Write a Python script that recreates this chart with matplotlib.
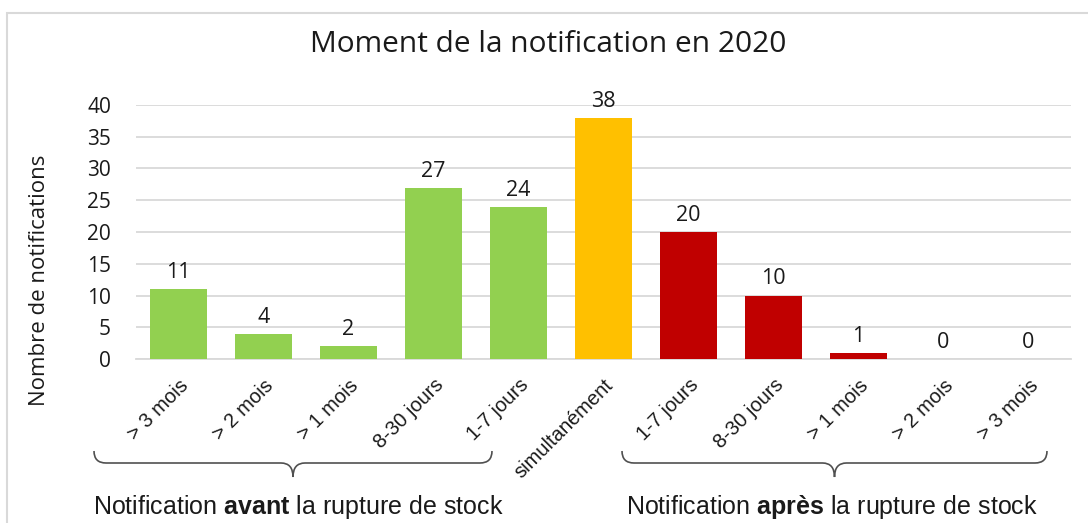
import matplotlib
matplotlib.use("Agg")
import matplotlib.pyplot as plt
from matplotlib.path import Path
from matplotlib.patches import PathPatch, Rectangle

# data
categories = ["> 3 mois", "> 2 mois", "> 1 mois", "8-30 jours", "1-7 jours",
              "simultanément",
              "1-7 jours", "8-30 jours", "> 1 mois", "> 2 mois", "> 3 mois"]
counts = [11, 4, 2, 27, 24, 38, 20, 10, 1, 0, 0]
bar_colors = ["#92D050"] * 5 + ["#FFC000"] + ["#C00000"] * 5
y_ticks = [0, 5, 10, 15, 20, 25, 30, 35, 40]

plt.rcParams["mathtext.fontset"] = "custom"
plt.rcParams["mathtext.rm"] = "Liberation Sans"
plt.rcParams["mathtext.bf"] = "Liberation Sans:bold"

TXT = "#1a1a1a"
NUM_FONT = ["Open Sans", "DejaVu Sans"]
LAB_FONT = ["Liberation Sans", "DejaVu Sans"]

W, H = 1088, 523
fig = plt.figure(figsize=(W / 100, H / 100), dpi=100)
ax = fig.add_axes([136 / W, 1 - 359 / H, (1071 - 136) / W, (359 - 105) / H])

x = list(range(len(categories)))
ax.bar(x, counts, width=0.66, color=bar_colors, zorder=3)
for xi, v in zip(x, counts):
    ax.annotate(str(v), (xi, v), xytext=(0, 19), textcoords="offset pixels",
                ha="center", va="center_baseline", fontsize=15.5, color=TXT,
                family=NUM_FONT)

ax.set_xlim(-0.5, len(categories) - 0.5)
ax.set_ylim(0, 40)
ax.set_yticks(y_ticks)
ax.yaxis.grid(True, color="#D9D9D9", linewidth=1.3, zorder=0)
ax.tick_params(axis="y", length=0, pad=18, labelsize=15, labelcolor=TXT)
for lab in ax.get_yticklabels():
    lab.set_family(NUM_FONT)
ax.set_xticks(x)
ax.set_xticklabels(categories, rotation=45, ha="right", rotation_mode="anchor",
                   fontsize=14.5, color=TXT, family=LAB_FONT)
ax.tick_params(axis="x", length=0, pad=12)
for s in ["top", "right", "left"]:
    ax.spines[s].set_visible(False)
ax.spines["bottom"].set_color("#D9D9D9")
ax.spines["bottom"].set_linewidth(1.3)

ax.set_ylabel("Nombre de notifications", fontsize=16, color=TXT,
              family=NUM_FONT)
ax.yaxis.set_label_coords(-0.092, 0.31)

fig.text(548 / W, 1 - 45 / H, "Moment de la notification en 2020",
         ha="center", va="center", fontsize=21.5, color=TXT, family=NUM_FONT)

# outer chart frame
fig.add_artist(Rectangle((7 / W, -0.1), 1.2, 1 - 13 / H + 0.1,
                         transform=fig.transFigure, fill=False,
                         edgecolor="#D9D9D9", linewidth=1.5))


def brace(x0, x1, y_top, y_mid, y_tip, r=12):
    xm = (x0 + x1) / 2
    pts = [(x0, y_top), (x0, y_mid), (x0 + r, y_mid),
           (xm - r, y_mid),
           (xm, y_mid), (xm, y_tip),
           (xm, y_mid), (xm + r, y_mid),
           (x1 - r, y_mid),
           (x1, y_mid), (x1, y_top)]
    codes = [Path.MOVETO, Path.CURVE3, Path.CURVE3, Path.LINETO,
             Path.CURVE3, Path.CURVE3, Path.CURVE3, Path.CURVE3,
             Path.LINETO, Path.CURVE3, Path.CURVE3]
    pts = [(px / W, 1 - py / H) for px, py in pts]
    fig.add_artist(PathPatch(Path(pts, codes), transform=fig.transFigure,
                             fill=False, edgecolor="#505050", linewidth=1.2))


brace(94, 492, 451, 463, 477)
brace(622, 1047, 451, 463, 477)

fig.text(298 / W, 1 - 507 / H, "Notification $\\bf{avant}$ la rupture de stock",
         ha="center", va="center", fontsize=18, color=TXT, family=LAB_FONT)
fig.text(832 / W, 1 - 507 / H, "Notification $\\bf{après}$ la rupture de stock",
         ha="center", va="center", fontsize=18, color=TXT, family=LAB_FONT)

fig.savefig("out.png", dpi=100)
